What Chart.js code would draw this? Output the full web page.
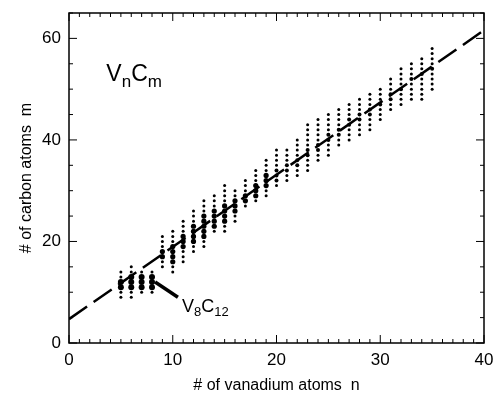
<!DOCTYPE html>
<html>
<head>
<meta charset="utf-8">
<script src="https://cdn.jsdelivr.net/npm/chart.js@4.4.1/dist/chart.umd.min.js"></script>
<style>
body{margin:0;background:#fff;}
#wrap{width:498px;height:395px;}
</style>
</head>
<body>
<div id="wrap"><canvas id="chart"></canvas></div>
<script>
// Cluster columns: number of vanadium atoms n, lowest / highest carbon count m observed
const vanadium   = [5,6,7,8,9,10,11,12,13,14,15,16,17,18,19,20,21,22,23,24,25,26,27,28,29,30,31,32,33,34,35];
const carbonLow  = [9,9,10,10,15,14,16,18,19,22,22,24,27,28,29,31,32,33,34,36,37,39,40,41,42,44,46,47,48,48,50];
const carbonHigh = [14,15,14,14,21,22,24,26,28,29,31,30,32,34,36,38,38,40,43,44,45,46,47,48,49,50,52,54,55,56,58];
// range of the strongest (largest) dots in each column
const strongLow  = [11,11,11,11,17,16,19,20,21,23,24,26,28,29,31,32,34,35,37,38,40,41,43,44,45,47,48,50,52,53,54];
const strongHigh = [12,13,13,13,18,19,21,23,25,26,27,28,29,31,33,34,35,36,38,39,41,42,44,45,46,47,49,50,52,53,54];
// dashed trend line m vs n
const fitN = [0, 40];
const fitM = [4.7, 61.6];
const xTicks = [0, 10, 20, 30, 40];
const yTicks = [0, 20, 40, 60];

// Helper: expand each column into one dot per carbon count
const dots = [];
const radii = [];
vanadium.forEach((n, i) => {
  for (let m = carbonLow[i]; m <= carbonHigh[i]; m++) {
    dots.push({x: n, y: m});
    const strong = m >= strongLow[i] && m <= strongHigh[i];
    radii.push(strong ? (n <= 8 ? 3.0 : n <= 19 ? 2.6 : 2.0) : 1.5);
  }
});
const fitLine = fitN.map((n, i) => ({x: n, y: fitM[i]}));

const FONT = "'Liberation Sans', Arial, sans-serif";

// Helper: draw text with subscripts, parts = [[text, isSub], ...]
function drawSubText(ctx, parts, x, y, size, subSize) {
  parts.forEach(([t, sub]) => {
    ctx.font = (sub ? subSize : size) + "px " + FONT;
    ctx.fillText(t, x, sub ? y + size * 0.25 : y);
    x += ctx.measureText(t).width;
  });
}

// Frame, inward ticks, labels
const framePlugin = {
  id: 'frame',
  afterDatasetsDraw(chart) {
    const {ctx, chartArea: a, scales: {x, y}} = chart;
    ctx.save();
    ctx.strokeStyle = '#000';
    ctx.lineWidth = 1.5;
    ctx.strokeRect(a.left, a.top, a.right - a.left, a.bottom - a.top);
    ctx.lineWidth = 1;
    ctx.beginPath();
    for (let v = x.min; v <= x.max; v++) {
      const px = x.getPixelForValue(v);
      const len = v % 10 === 0 ? 8 : 4;
      ctx.moveTo(px, a.bottom); ctx.lineTo(px, a.bottom - len);
      ctx.moveTo(px, a.top); ctx.lineTo(px, a.top + len);
    }
    for (let v = y.min; v <= y.max; v += 5) {
      const py = y.getPixelForValue(v);
      const len = v % 20 === 0 ? 8 : 4;
      ctx.moveTo(a.left, py); ctx.lineTo(a.left + len, py);
      ctx.moveTo(a.right, py); ctx.lineTo(a.right - len, py);
    }
    ctx.stroke();

    // V_n C_m label
    ctx.fillStyle = '#000';
    ctx.textBaseline = 'alphabetic';
    drawSubText(ctx, [['V', false], ['n', true], ['C', false], ['m', true]],
      x.getPixelForValue(3.6), y.getPixelForValue(51.6), 23, 17);

    // V8C12 pointer
    ctx.lineWidth = 3.5;
    ctx.beginPath();
    ctx.moveTo(x.getPixelForValue(8.3), y.getPixelForValue(12));
    ctx.lineTo(x.getPixelForValue(10.5), y.getPixelForValue(9.0));
    ctx.stroke();
    drawSubText(ctx, [['V', false], ['8', true], ['C', false], ['12', true]],
      x.getPixelForValue(10.9), y.getPixelForValue(6.2), 18, 13);
    ctx.restore();
  }
};

new Chart(document.getElementById('chart'), {
  type: 'scatter',
  data: {
    datasets: [{
      data: fitLine,
      showLine: true,
      borderColor: '#000',
      borderWidth: 2.5,
      borderDash: [22, 8],
      pointRadius: 0,
      fill: false
    }, {
      data: dots,
      backgroundColor: '#000',
      borderWidth: 0,
      pointRadius: radii
    }]
  },
  options: {
    responsive: true,
    maintainAspectRatio: false,
    animation: false,
    layout: {padding: {top: 13, right: 14, left: 0, bottom: 0}},
    plugins: {legend: {display: false}, tooltip: {enabled: false}},
    scales: {
      x: {
        type: 'linear', min: 0, max: 40,
        afterBuildTicks: s => { s.ticks = xTicks.map(v => ({value: v})); },
        afterFit: s => { s.height = 52; s.paddingLeft = 0; s.paddingRight = 0; },
        grid: {display: false, drawTicks: false},
        border: {display: false},
        ticks: {color: '#000', padding: 7, maxRotation: 0, font: {family: FONT, size: 17}},
        title: {display: true, text: '# of vanadium atoms  n', color: '#000',
                font: {family: FONT, size: 16}, padding: {top: 0, bottom: 0}}
      },
      y: {
        type: 'linear', min: 0, max: 65,
        afterBuildTicks: s => { s.ticks = yTicks.map(v => ({value: v})); },
        afterFit: s => { s.width = 69; s.paddingTop = 0; s.paddingBottom = 0; },
        grid: {display: false, drawTicks: false},
        border: {display: false},
        ticks: {color: '#000', padding: 8, font: {family: FONT, size: 17}},
        title: {display: true, text: '# of carbon atoms  m', color: '#000',
                font: {family: FONT, size: 16}, padding: {top: 17, bottom: 0}}
      }
    }
  },
  plugins: [framePlugin]
});
</script>
</body>
</html>
